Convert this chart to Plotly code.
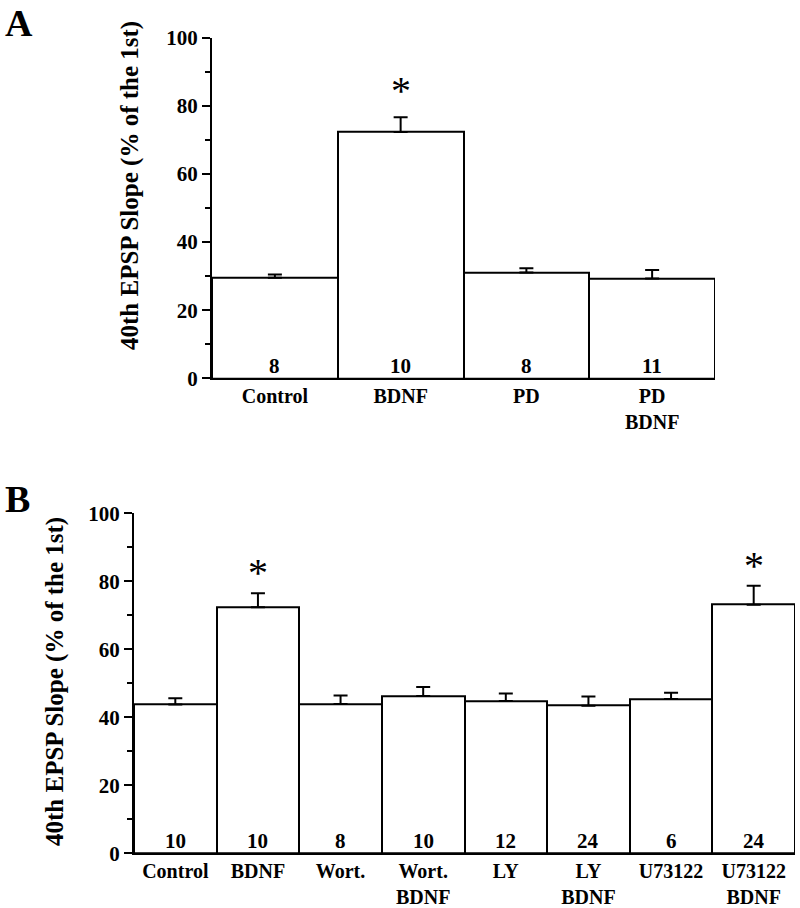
import plotly.graph_objects as go

# ---------------- data ----------------
A_cats = ["Control", "BDNF", "PD", "PD<br>BDNF"]
A_mean = [29.5, 72.3, 31.1, 29.3]
A_err = [1.0, 4.4, 1.2, 2.5]
A_n = [8, 10, 8, 11]
A_sig = [False, True, False, False]

B_cats = ["Control", "BDNF", "Wort.", "Wort.<br>BDNF", "LY", "LY<br>BDNF", "U73122", "U73122<br>BDNF"]
B_mean = [43.8, 72.4, 43.9, 46.3, 44.8, 43.4, 45.4, 73.1]
B_err = [1.8, 4.1, 2.5, 2.6, 2.2, 2.7, 1.8, 5.6]
B_n = [10, 10, 8, 10, 12, 24, 6, 24]
B_sig = [False, True, False, False, False, False, False, True]

y_ticks = [0, 20, 40, 60, 80, 100]
y_title = "40th EPSP Slope (% of the 1st)"

FONT = "Liberation Serif, Times New Roman, serif"
W, H = 800, 908

fig = go.Figure()

def add_panel(cats, mean, err, xa, ya):
    fig.add_trace(go.Bar(
        x=cats, y=mean, xaxis=xa, yaxis=ya,
        marker=dict(color="white", line=dict(color="black", width=2)),
        error_y=dict(type="data", array=err, arrayminus=[0] * len(err),
                     symmetric=False, color="black", thickness=2, width=7),
        showlegend=False, hoverinfo="skip",
    ))

add_panel(A_cats, A_mean, A_err, "x", "y")
add_panel(B_cats, B_mean, B_err, "x2", "y2")

axis_y_common = dict(
    range=[0, 100], tickvals=y_ticks, ticks="outside", ticklen=8, tickwidth=2,
    tickcolor="black", showline=True, linewidth=2, linecolor="black",
    showgrid=False, zeroline=False, fixedrange=True, automargin=False,
    tickfont=dict(family=FONT, size=21, color="black", weight="bold"),
    minor=dict(dtick=10, ticks="outside", ticklen=5, tickwidth=2, tickcolor="black", tick0=0),
)
axis_x_common = dict(
    showline=True, linewidth=2, linecolor="black", ticks="", showgrid=False,
    zeroline=False, fixedrange=True, automargin=False, ticklabelstandoff=-1,
    tickfont=dict(family=FONT, size=20, color="black", weight="bold"),
)

fig.update_layout(
    width=W, height=H, margin=dict(l=0, r=0, t=0, b=0, pad=0, autoexpand=False),
    paper_bgcolor="white", plot_bgcolor="white", bargap=0, showlegend=False,
    xaxis=dict(domain=[212 / W, 715 / W], anchor="y", **axis_x_common),
    yaxis=dict(domain=[1 - 378.3 / H, 1 - 37.8 / H], anchor="x", **axis_y_common),
    xaxis2=dict(domain=[134 / W, 795 / W], anchor="y2", **axis_x_common),
    yaxis2=dict(domain=[1 - 853.3 / H, 1 - 513.3 / H], anchor="x2", **axis_y_common),
)

ann = []
# n labels
for cats, ns, xr, yr in [(A_cats, A_n, "x", "y"), (B_cats, B_n, "x2", "y2")]:
    for c, n in zip(cats, ns):
        ann.append(dict(x=c, y=0, xref=xr, yref=yr, text=f"<b>{n}</b>", showarrow=False,
                        yanchor="bottom", yshift=-2,
                        font=dict(family=FONT, size=21, color="black")))
# significance stars
for cats, mean, err, sig, xr, yr, sh in [(A_cats, A_mean, A_err, A_sig, "x", "y", 2),
                                          (B_cats, B_mean, B_err, B_sig, "x2", "y2", -4)]:
    for c, m, e, s in zip(cats, mean, err, sig):
        if s:
            ann.append(dict(x=c, y=m + e, xref=xr, yref=yr, text="*", showarrow=False,
                            yanchor="bottom", yshift=sh,
                            font=dict(family=FONT, size=40, color="black")))
# y titles
ann.append(dict(x=130 / W, y=1 - 186 / H, xref="paper", yref="paper", text=f"<b>{y_title}</b>",
                textangle=-90, showarrow=False, xanchor="center", yanchor="middle",
                font=dict(family=FONT, size=25, color="black")))
ann.append(dict(x=55 / W, y=1 - 682 / H, xref="paper", yref="paper", text=f"<b>{y_title}</b>",
                textangle=-90, showarrow=False, xanchor="center", yanchor="middle",
                font=dict(family=FONT, size=25, color="black")))
# panel letters
ann.append(dict(x=3 / W, y=1, xref="paper", yref="paper", text="<b>A</b>",
                showarrow=False, xanchor="left", yanchor="top",
                font=dict(family=FONT, size=38, color="black")))
ann.append(dict(x=3 / W, y=1 - 476 / H, xref="paper", yref="paper", text="<b>B</b>",
                showarrow=False, xanchor="left", yanchor="top",
                font=dict(family=FONT, size=38, color="black")))
fig.update_layout(annotations=ann)

fig.write_html("out.html", config={"displayModeBar": False},
               post_script="document.body.style.margin='0';document.body.style.overflow='hidden';")
